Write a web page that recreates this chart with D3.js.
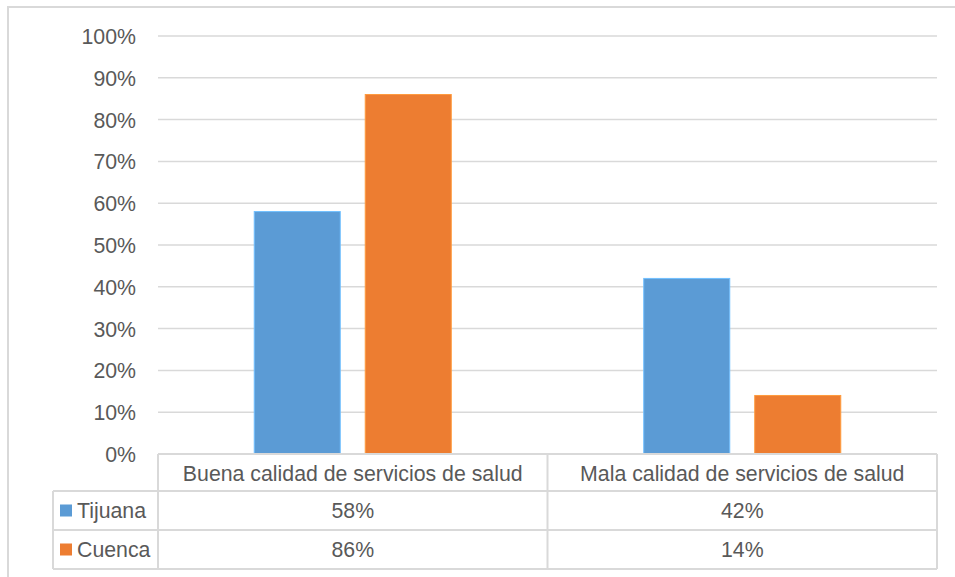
<!DOCTYPE html>
<html><head><meta charset="utf-8">
<script src="https://cdn.jsdelivr.net/npm/d3@7"></script>
<style>body{margin:0;background:#fff}svg{display:block}text{font-family:"Liberation Sans",Arial,sans-serif;fill:#595959}</style>
</head><body><svg id="c" width="955" height="577"></svg>
<script>
const categories = ["Buena calidad de servicios de salud", "Mala calidad de servicios de salud"];
const seriesNames = ["Tijuana", "Cuenca"];
const tijuana = [0.58, 0.42];
const cuenca = [0.86, 0.14];
const seriesColors = ["#5B9BD5", "#ED7D31"];
const tickValues = [0,0.1,0.2,0.3,0.4,0.5,0.6,0.7,0.8,0.9,1.0];
const seriesValues = [tijuana, cuenca];

const FS = 21.3;
const svg = d3.select("#c");
const gridCol = "#d9d9d9";
const L = 158, R = 937, T = 36, B = 454;
const y = d3.scaleLinear().domain([0,1]).range([B,T]);
const x = d3.scaleBand().domain(categories).range([L,R]).padding(0);
const xs = d3.scaleBand().domain(seriesNames).range([0,x.bandwidth()]).paddingInner(0.225).paddingOuter(0.867);

// outer border
svg.append("rect").attr("x",8).attr("y",7).attr("width",1000).attr("height",700)
  .attr("fill","none").attr("stroke",gridCol).attr("stroke-width",2);

// gridlines
svg.append("g").selectAll("line").data(tickValues.filter(d=>d>0)).join("line")
  .attr("x1",L).attr("x2",R).attr("y1",d=>y(d)).attr("y2",d=>y(d))
  .attr("stroke",gridCol).attr("stroke-width",1.5);

// y axis labels
const yAxis = d3.axisLeft(y).tickValues(tickValues).tickFormat(d3.format(".0%")).tickSize(0).tickPadding(0);
const ga = svg.append("g").attr("transform","translate(136,0)").call(yAxis);
ga.select(".domain").remove();
ga.selectAll("text").attr("font-size",FS).attr("fill","#595959").attr("font-family","Liberation Sans, Arial, sans-serif").attr("dy","0.35em");

// bars
seriesNames.forEach((s,si)=>{
  svg.append("g").selectAll("rect").data(categories).join("rect")
    .attr("x",c=>x(c)+xs(s)).attr("width",xs.bandwidth())
    .attr("y",(c,i)=>y(seriesValues[si][i])).attr("height",(c,i)=>B-y(seriesValues[si][i]))
    .attr("fill",seriesColors[si]).attr("stroke",d3.color(seriesColors[si]).brighter(0.6)).attr("stroke-width",1);
});

// data table
const rowY = [454, 491, 530, 569];
const legL = 53;
const tg = svg.append("g").attr("stroke",gridCol).attr("stroke-width",2);
tg.append("line").attr("x1",L).attr("x2",R).attr("y1",rowY[0]).attr("y2",rowY[0]);
[1,2,3].forEach(i=>tg.append("line").attr("x1",legL).attr("x2",R).attr("y1",rowY[i]).attr("y2",rowY[i]));
tg.append("line").attr("x1",legL).attr("x2",legL).attr("y1",rowY[1]).attr("y2",rowY[3]);
[L, x(categories[1]), R].forEach(xx=>tg.append("line").attr("x1",xx).attr("x2",xx).attr("y1",rowY[0]).attr("y2",rowY[3]));

// header text
svg.append("g").selectAll("text").data(categories).join("text")
  .attr("x",c=>x(c)+x.bandwidth()/2).attr("y",(rowY[0]+rowY[1])/2+1).attr("dy","0.35em")
  .attr("text-anchor","middle").attr("font-size",FS).text(c=>c);

// rows
seriesNames.forEach((s,si)=>{
  const cy = (rowY[si+1]+rowY[si+2])/2;
  svg.append("rect").attr("x",60).attr("y",cy-6).attr("width",12).attr("height",12).attr("fill",seriesColors[si]);
  svg.append("text").attr("x",77).attr("y",cy).attr("dy","0.35em").attr("font-size",FS).text(s);
  svg.append("g").selectAll("text").data(categories).join("text")
    .attr("x",c=>x(c)+x.bandwidth()/2).attr("y",cy).attr("dy","0.35em")
    .attr("text-anchor","middle").attr("font-size",FS)
    .text((c,i)=>d3.format(".0%")(seriesValues[si][i]));
});
</script></body></html>
